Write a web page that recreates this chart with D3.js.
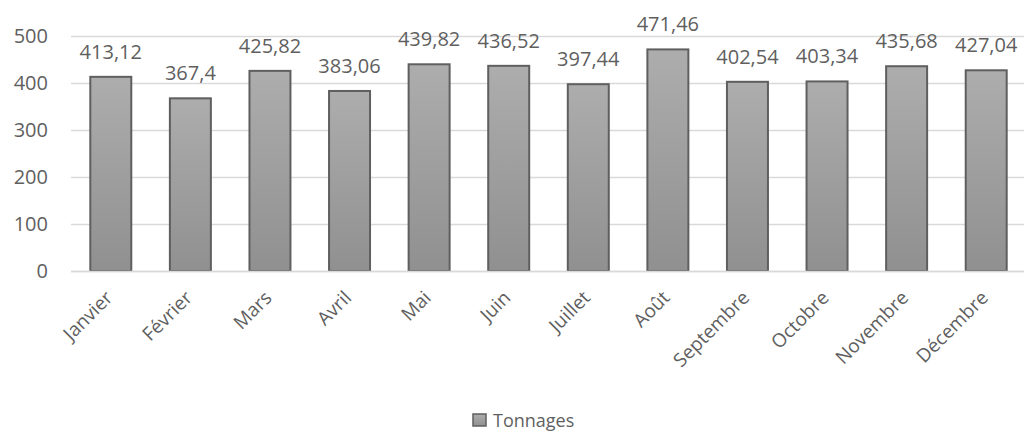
<!DOCTYPE html>
<html>
<head>
<meta charset="utf-8">
<script src="https://cdn.jsdelivr.net/npm/d3@7"></script>
<style>
  body { margin: 0; background: #fff; }
  text { font-family: "Open Sans", sans-serif; fill: #5f5f5f; }
</style>
</head>
<body>
<svg id="chart" width="1024" height="433"></svg>
<script>
var months = ["Janvier", "Février", "Mars", "Avril", "Mai", "Juin", "Juillet", "Août",
              "Septembre", "Octobre", "Novembre", "Décembre"];
var tonnages = [413.12, 367.4, 425.82, 383.06, 439.82, 436.52, 397.44, 471.46,
                402.54, 403.34, 435.68, 427.04];
var yTicks = [0, 100, 200, 300, 400, 500];
var seriesName = "Tonnages";

var svg = d3.select("#chart");

var x = d3.scaleBand()
    .domain(months)
    .range([71, 1026])
    .paddingInner(0.485)
    .paddingOuter(0.2425);

var y = d3.scaleLinear()
    .domain([0, 500])
    .range([271, 36]);

var defs = svg.append("defs");
var grad = defs.append("linearGradient")
    .attr("id", "barGrad")
    .attr("x1", 0).attr("y1", 0).attr("x2", 0).attr("y2", 1);
grad.append("stop").attr("offset", "0%").attr("stop-color", "#adadad");
grad.append("stop").attr("offset", "100%").attr("stop-color", "#909090");

// gridlines
svg.append("g")
    .attr("class", "grid")
  .selectAll("line")
  .data(yTicks)
  .enter().append("line")
    .attr("x1", 71).attr("x2", 1024)
    .attr("y1", function(d) { return y(d) + 0.5; })
    .attr("y2", function(d) { return y(d) + 0.5; })
    .attr("stroke", "#d9d9d9")
    .attr("stroke-width", 1.5);

// y axis labels
var yAxis = d3.axisLeft(y).tickValues(yTicks).tickSize(0).tickPadding(0);
var yg = svg.append("g")
    .attr("transform", "translate(48,0)")
    .call(yAxis);
yg.select(".domain").remove();
yg.selectAll("text")
    .style("font-size", "20px")
    .style("font-family", "'Open Sans', sans-serif")
    .attr("fill", "#5f5f5f");

// bars
svg.append("g")
  .selectAll("rect")
  .data(tonnages)
  .enter().append("rect")
    .attr("x", function(d, i) { return x(months[i]); })
    .attr("y", function(d) { return y(d); })
    .attr("width", x.bandwidth())
    .attr("height", function(d) { return y(0) - y(d); })
    .attr("fill", "url(#barGrad)")
    .attr("stroke", "#5f5f5f")
    .attr("stroke-width", 2);

// data labels
svg.append("g")
  .selectAll("text")
  .data(tonnages)
  .enter().append("text")
    .attr("x", function(d, i) { return x(months[i]) + x.bandwidth() / 2; })
    .attr("y", function(d) { return y(d) - 18; })
    .attr("text-anchor", "middle")
    .style("font-size", "20px")
    .text(function(d) { return String(d).replace(".", ","); });

// x axis line
svg.append("line")
    .attr("x1", 71).attr("x2", 1024)
    .attr("y1", y(0) + 0.5).attr("y2", y(0) + 0.5)
    .attr("stroke", "#d9d9d9")
    .attr("stroke-width", 1.5);

// x labels
svg.append("g")
  .selectAll("text")
  .data(months)
  .enter().append("text")
    .attr("transform", function(d) {
      return "translate(" + (x(d) + x.bandwidth() / 2 + 3) + "," + 299 + ") rotate(-45)";
    })
    .attr("text-anchor", "end")
    .style("font-size", "19px")
    .text(function(d) { return d; });

// legend
var legend = svg.append("g").attr("transform", "translate(473,414)");
legend.append("rect")
    .attr("width", 13).attr("height", 12)
    .attr("fill", "url(#barGrad)")
    .attr("stroke", "#5f5f5f")
    .attr("stroke-width", 1.5);
legend.append("text")
    .attr("x", 20).attr("y", 13)
    .style("font-size", "18px")
    .text(seriesName);
</script>
</body>
</html>
